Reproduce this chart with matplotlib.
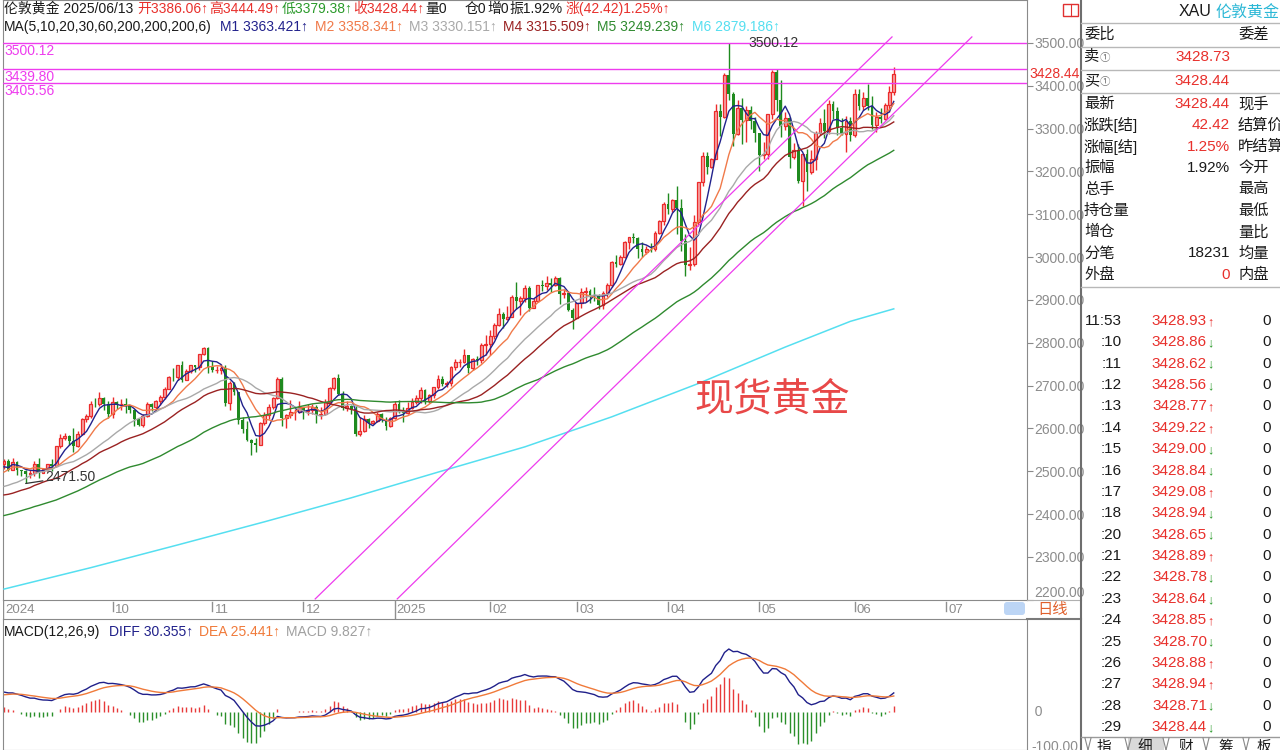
import numpy as np
import pandas as pd
import matplotlib
matplotlib.use("Agg")
import matplotlib.pyplot as plt
import matplotlib.transforms as mtransforms
from matplotlib.patches import Rectangle, FancyBboxPatch

plt.rcParams["font.family"] = ["Liberation Sans", "Noto Sans CJK SC", "DejaVu Sans"]

# ---------------- daily bars, London gold (XAU) ----------------
session_days = pd.bdate_range("2024-08-27", "2025-06-13").difference(
    pd.to_datetime(["2024-12-25", "2025-01-01", "2025-04-18"]))
future_days = pd.bdate_range("2025-06-16", "2025-07-31")

open_ = [
    2517, 2525, 2504, 2521,
    2503, 2500, 2493, 2495, 2517, 2497, 2506, 2516, 2512, 2558, 2578, 2582, 2570, 2559, 2586, 2622, 2628, 2657, 2656, 2672, 2658,
    2634, 2662, 2656, 2657, 2653, 2643, 2622, 2608, 2630, 2657, 2649, 2663, 2674, 2693, 2721, 2720, 2748, 2714, 2735, 2747, 2743, 2774, 2788,
    2743, 2736, 2737, 2742, 2659, 2706, 2685, 2619, 2598, 2573, 2565, 2562, 2612, 2631, 2650, 2670, 2716, 2625, 2632, 2638, 2639,
    2650, 2640, 2643, 2650, 2632, 2633, 2661, 2694, 2718, 2681, 2648, 2653, 2646, 2586, 2594, 2622, 2613, 2617, 2633, 2620, 2606,
    2624, 2658, 2640, 2636, 2648, 2662, 2670, 2690, 2663, 2677, 2696, 2715, 2703, 2707, 2743, 2754, 2755, 2771, 2740, 2763, 2760, 2794,
    2798, 2815, 2842, 2867, 2856, 2861, 2908, 2898, 2904, 2929, 2882, 2898, 2935, 2933, 2939, 2936, 2951, 2915, 2916, 2876,
    2858, 2893, 2918, 2920, 2911, 2910, 2889, 2916, 2934, 2988, 2984, 3001, 3035, 3047, 3044, 3019, 3011, 3020, 3019, 3057, 3085,
    3123, 3113, 3134, 3114, 3037, 2982, 2983, 3082, 3175, 3237, 3210, 3229, 3342, 3327, 3424, 3381, 3288, 3349, 3319, 3343, 3317,
    3289, 3239, 3241, 3334, 3431, 3366, 3306, 3325, 3234, 3249, 3178, 3240, 3199, 3230, 3290, 3314, 3294, 3357, 3342, 3301, 3288, 3318,
    3285.6, 3381, 3353, 3372, 3352, 3308, 3327, 3322, 3354, 3386.06,
]
high = [
    2528, 2528.5, 2531.5, 2525,
    2504, 2503, 2503, 2523, 2530, 2508, 2518, 2529, 2560, 2586, 2589, 2584, 2600, 2593, 2625, 2634, 2664, 2670, 2685, 2674, 2665,
    2673, 2665, 2668, 2670, 2655, 2646, 2625, 2633, 2661, 2660, 2667, 2678, 2696, 2722, 2740, 2749, 2758, 2738, 2749, 2749, 2774, 2790, 2790,
    2757, 2746, 2750, 2749, 2710, 2709, 2685, 2626, 2618, 2575, 2578, 2614, 2639, 2656, 2674, 2721, 2721, 2633, 2666, 2645, 2665,
    2650, 2657, 2657, 2655, 2649, 2668, 2697, 2721, 2726, 2687, 2664, 2655, 2655, 2626, 2632, 2625, 2620, 2638, 2637, 2626, 2627,
    2664, 2666, 2649, 2662, 2670, 2678, 2697, 2692, 2680, 2697, 2725, 2722, 2711, 2746, 2763, 2763, 2786, 2772, 2765, 2770, 2799, 2817,
    2830, 2845, 2882, 2872, 2887, 2911, 2942, 2910, 2935, 2933, 2905, 2936, 2947, 2955, 2952, 2956, 2954, 2925, 2920, 2882,
    2894, 2928, 2930, 2925, 2930, 2913, 2921, 2940, 2990, 3005, 3004, 3038, 3048, 3057, 3047, 3036, 3025, 3033, 3060, 3087, 3128,
    3149, 3135, 3167, 3136, 3055, 3023, 3099, 3176, 3245, 3245, 3232, 3357, 3358, 3430, 3500.12, 3386, 3367, 3371, 3352, 3353, 3328,
    3290, 3269, 3335, 3437, 3439.8, 3414, 3338, 3326, 3266, 3264, 3241, 3253, 3250, 3295, 3325, 3345, 3366, 3365, 3350, 3325, 3330, 3326,
    3392, 3392, 3385, 3403, 3375, 3338, 3349, 3360, 3400, 3444.49,
]
low = [
    2506, 2499.5, 2502, 2491,
    2489, 2471.5, 2484, 2490, 2485, 2495, 2500, 2500, 2510, 2555, 2574, 2562, 2546, 2556, 2584, 2614, 2624, 2651, 2653, 2643, 2625,
    2624, 2646, 2642, 2636, 2637, 2605, 2605, 2604, 2627, 2640, 2643, 2655, 2669, 2692, 2710, 2714, 2709, 2712, 2730, 2732, 2737, 2772, 2730,
    2732, 2729, 2728, 2652, 2643, 2677, 2610, 2589, 2571, 2537, 2545, 2561, 2607, 2622, 2646, 2668, 2605, 2601, 2625, 2620, 2636,
    2622, 2632, 2633, 2613, 2623, 2631, 2657, 2689, 2678, 2643, 2641, 2633, 2583, 2583, 2592, 2602, 2610, 2616, 2615, 2597, 2604,
    2621, 2635, 2614, 2634, 2645, 2656, 2660, 2656, 2660, 2672, 2692, 2700, 2697, 2700, 2736, 2744, 2752, 2730, 2737, 2747, 2752, 2772,
    2771, 2809, 2840, 2834, 2852, 2860, 2880, 2864, 2895, 2875, 2881, 2896, 2922, 2923, 2918, 2932, 2890, 2904, 2874, 2833,
    2857, 2882, 2895, 2894, 2898, 2880, 2880, 2906, 2930, 2976, 2982, 2999, 3020, 3032, 2999, 3001, 3007, 3013, 3015, 3055, 3076,
    3100, 3105, 3054, 3015, 2957, 2971, 2979, 3073, 3167, 3194, 3207, 3228, 3283, 3325, 3367, 3260, 3285, 3265, 3268, 3300, 3268,
    3202, 3229, 3229, 3323, 3340, 3280, 3297, 3207, 3228, 3172, 3120, 3155, 3195, 3204, 3285, 3278, 3287, 3323, 3285, 3284, 3245, 3271,
    3280, 3343, 3344, 3343, 3299, 3293, 3312, 3319, 3338, 3379.38,
]
close = [
    2525, 2504, 2521, 2503,
    2500, 2493, 2495, 2517, 2497, 2506, 2516, 2512, 2558, 2578, 2582, 2570, 2559, 2586, 2622, 2628, 2657, 2656, 2672, 2658, 2634,
    2662, 2656, 2657, 2653, 2643, 2622, 2608, 2630, 2657, 2649, 2663, 2674, 2693, 2721, 2720, 2748, 2714, 2735, 2747, 2743, 2774, 2788, 2743,
    2736, 2737, 2742, 2659, 2706, 2685, 2619, 2598, 2573, 2565, 2562, 2612, 2631, 2650, 2670, 2716, 2625, 2632, 2638, 2639, 2650,
    2640, 2643, 2650, 2632, 2633, 2661, 2694, 2718, 2681, 2648, 2653, 2646, 2586, 2594, 2622, 2613, 2617, 2633, 2620, 2606, 2624,
    2658, 2640, 2636, 2648, 2662, 2670, 2690, 2663, 2677, 2696, 2715, 2703, 2707, 2743, 2754, 2755, 2771, 2740, 2763, 2760, 2794, 2798,
    2815, 2842, 2867, 2856, 2861, 2908, 2898, 2904, 2929, 2882, 2898, 2935, 2933, 2939, 2936, 2951, 2915, 2916, 2876, 2858,
    2893, 2918, 2920, 2911, 2910, 2889, 2916, 2934, 2988, 2984, 3001, 3035, 3047, 3044, 3019.07, 3011, 3020, 3019, 3057, 3085, 3123,
    3113, 3134, 3114, 3037, 2982, 2983, 3082, 3175, 3237, 3210, 3229, 3342, 3327, 3424, 3381, 3288, 3349, 3319, 3343, 3317, 3289,
    3239, 3241, 3334, 3431, 3366, 3306, 3325, 3234, 3249, 3178, 3240, 3199.25, 3230, 3290, 3314, 3294, 3357, 3342, 3301, 3288, 3318, 3285.61,
    3381.20, 3352.85, 3372.40, 3352.31, 3307.545, 3326.655, 3322.05, 3353.94, 3386.02, 3428.44,
]
# closes before the first displayed bar (June - August 2024), used to seed the averages
prior_close = [
    2350, 2327, 2355, 2375, 2294, 2311, 2316, 2324, 2303, 2333, 2319, 2330, 2328, 2360, 2322, 2334, 2320, 2298, 2327, 2326,
    2332, 2334, 2356, 2356, 2392, 2359, 2364, 2371, 2415, 2411, 2422, 2469, 2459, 2445, 2400, 2396, 2409, 2397, 2364, 2387,
    2384, 2410, 2447,
    2446, 2442, 2409, 2391, 2382, 2427, 2431, 2472, 2465, 2447, 2457, 2507, 2503, 2514, 2512, 2485, 2512, 2518,
]
# 200-day average, sampled along the displayed range (bar index, value)
ma200_idx = [0, 20, 40, 60, 80, 100, 120, 140, 160, 180, 195, 205]
ma200_val = [2225, 2275, 2328, 2382, 2438, 2498, 2557, 2627, 2705, 2790, 2850, 2879.186]

ma_periods = [5, 10, 20, 30, 60]
ma_names = ["M1", "M2", "M3", "M4", "M5"]
level_lines = [3500.12, 3439.80, 3405.56]
# drawn channel: (bar index, price) end points
channel_upper = [(71.7, 2202.0), (204.6, 3514.0)]
channel_lower = [(90.6, 2202.0), (223.0, 3514.0)]

macd_text = ["DIFF 30.355↑", "DEA 25.441↑", "MACD 9.827↑"]

quote_rows = [("最新", "3428.44", "现手"), ("涨跌[结]", "42.42", "结算价"), ("涨幅[结]", "1.25%", "昨结算"),
              ("振幅", "1.92%", "今开"), ("总手", "", "最高"), ("持仓量", "", "最低"), ("增仓", "", "量比"),
              ("分笔", "18231", "均量"), ("外盘", "0", "内盘")]
quote_red = [True, True, True, False, False, False, False, False, True]
tick_times = ["11:53", ":10", ":11", ":12", ":13", ":14", ":15", ":16", ":17", ":18",
              ":20", ":21", ":22", ":23", ":24", ":25", ":26", ":27", ":28", ":29"]
tick_prices = [3428.93, 3428.86, 3428.62, 3428.56, 3428.77, 3429.22, 3429.00, 3428.84, 3429.08, 3428.94,
               3428.65, 3428.89, 3428.78, 3428.64, 3428.85, 3428.70, 3428.88, 3428.94, 3428.71, 3428.44]
tick_dirs = ["↑", "↓", "↓", "↓", "↑", "↑", "↓", "↓", "↑", "↓", "↓", "↑", "↓", "↓", "↑", "↓", "↑", "↑", "↓", "↓"]
tick_vols = [0] * 20

# ---------------- styling ----------------
RED = "#e8302c"
GREEN = "#2a9a2a"
UP_EDGE = "#ec2b2b"
UP_FACE = "#f6a2a2"
DOWN_COL = "#1f8a1f"
MAG = "#ee3cee"
GRAY_TXT = "#8c8c8c"
FRAME = "#8a8a8a"
MA_COLORS = ["#22228c", "#f07a4a", "#a9a9a9", "#9a2222", "#2f8a2f"]
CYAN = "#55dff0"

W, H = 1280, 750
fig = plt.figure(figsize=(W / 100, H / 100), dpi=100)
fig.patch.set_facecolor("white")


def frame(x0, y0, x1, y1):
    return [x0 / W, 1 - y1 / H, (x1 - x0) / W, (y1 - y0) / H]


o, h, l, c = (np.asarray(a, dtype=float) for a in (open_, high, low, close))
n = len(c)
idx = np.arange(n)
X_LEFT, X_RIGHT = -0.23, 235.7

# ---------------- price pane ----------------
ax = fig.add_axes(frame(3, 0, 1027, 600))
ax.set_xlim(X_LEFT, X_RIGHT)
ax.set_ylim(2199.5, 3600.2)
for s in ax.spines.values():
    s.set_color(FRAME)
ax.set_xticks([])
ax.yaxis.tick_right()
yt = np.arange(2200, 3600, 100)
ax.set_yticks(yt)
ax.set_yticklabels([f"{v:.2f}" for v in yt])
ax.tick_params(axis="y", length=4, pad=1, color=FRAME, labelcolor=GRAY_TXT, labelsize=10)
ax.get_yticklabels()[0].set_va("bottom")

rising = c >= o
ax.vlines(idx, l, h, colors=np.where(rising, UP_EDGE, DOWN_COL), lw=1.0, zorder=2)
body_lo = np.minimum(o, c)
body_h = np.maximum(np.abs(c - o), 0.8)
ax.bar(idx[rising], body_h[rising], bottom=body_lo[rising], width=0.66,
       facecolor=UP_FACE, edgecolor=UP_EDGE, lw=0.9, zorder=3)
ax.bar(idx[~rising], body_h[~rising], bottom=body_lo[~rising], width=0.66,
       color=DOWN_COL, lw=0, zorder=3)

closes_all = pd.Series(np.concatenate([prior_close, c]))
ma_vals = {}
for p, col in zip(ma_periods, MA_COLORS):
    ma_vals[p] = closes_all.rolling(p).mean().to_numpy()[len(prior_close):]
    ax.plot(idx, ma_vals[p], color=col, lw=1.0, zorder=4)
ax.plot(ma200_idx, ma200_val, color=CYAN, lw=1.1, zorder=4)

for v in level_lines:
    ax.axhline(v, color=MAG, lw=1.0, zorder=5)
    ax.annotate(f"{v:.2f}", xy=(0, v), xycoords=mtransforms.blended_transform_factory(ax.transAxes, ax.transData),
                xytext=(1, -1), textcoords="offset pixels", va="top", ha="left", color=MAG, fontsize=10)
for seg in (channel_upper, channel_lower):
    ax.plot([seg[0][0], seg[1][0]], [seg[0][1], seg[1][1]], color=MAG, lw=0.9, zorder=5)

i_hi = int(np.argmax(h))
ax.text(i_hi + 4.5, h[i_hi], f"{h[i_hi]:.2f}", va="center", ha="left", color="#333333", fontsize=10, zorder=6)
i_lo = int(np.argmin(l))
ax.annotate(f"{l[i_lo]:.2f}", xy=(i_lo, l[i_lo]), xytext=(i_lo + 4.6, l[i_lo] + 16), va="center", ha="left",
            color="#333333", fontsize=10, zorder=6,
            arrowprops=dict(arrowstyle="-", color="#333333", lw=0.9, shrinkA=0, shrinkB=0))

ax.text(177, 2668, "现货黄金", ha="center", va="center", color="#e84848", fontsize=28,
        family=["Noto Sans CJK SC"], zorder=6)

# ---------------- date strip ----------------
axd = fig.add_axes(frame(3, 600, 1027, 619))
axd.set_xlim(X_LEFT, X_RIGHT)
axd.set_ylim(19, 0)
axd.axis("off")
all_days = session_days.append(future_days)
for i, d in enumerate(all_days):
    if i > 0 and (d.month == all_days[i - 1].month or i < 10):
        continue
    yearly = i == 0 or d.month == 1
    label = str(d.year) if yearly else f"{d.month:02d}"
    xpos = X_LEFT if i == 0 else i
    axd.plot([xpos, xpos], [0, 19] if yearly else [1.5, 11], color="#8f8f8f", lw=1)
    axd.text(xpos + 0.5, 10, label, ha="left", va="center", color=GRAY_TXT, fontsize=9.5)

# ---------------- MACD pane ----------------
axm = fig.add_axes(frame(3, 619, 1027, 750))
axm.set_xlim(X_LEFT, X_RIGHT)
axm.set_ylim(-60.3, 147.6)
for s in axm.spines.values():
    s.set_color(FRAME)
axm.set_xticks([])
axm.set_yticks([])
ema12 = closes_all.ewm(span=12, adjust=False).mean()
ema26 = closes_all.ewm(span=26, adjust=False).mean()
diff = (ema12 - ema26)
dea = diff.ewm(span=9, adjust=False).mean()
hist = 2 * (diff - dea)
diff = diff.to_numpy()[len(prior_close):]
dea = dea.to_numpy()[len(prior_close):]
hist = hist.to_numpy()[len(prior_close):]
axm.vlines(idx, 0, hist, colors=np.where(hist >= 0, "#e83a3a", "#2a8f2a"), lw=1.0)
axm.plot(idx, diff, color="#20208a", lw=1.0)
axm.plot(idx, dea, color="#f07a3a", lw=1.0)
axm.text(1.0, 0, "  0", transform=mtransforms.blended_transform_factory(axm.transAxes, axm.transData),
         ha="left", va="center", color=GRAY_TXT, fontsize=10, clip_on=False)

# ---------------- overlay: headers and quote panel ----------------
ov = fig.add_axes([0, 0, 1, 1])
ov.set_xlim(0, W)
ov.set_ylim(H, 0)
ov.axis("off")


def t(x, y, s, color="#1a1a1a", size=10, ha="left", **kw):
    ov.text(x, y, s, color=color, fontsize=size, ha=ha, va="center", **kw)


# header line 1
t(4, 9, "伦敦黄金 2025/06/13")
t(137, 9, f"开{o[-1]:.2f}↑", RED)
t(209, 9, f"高{h[-1]:.2f}↑", RED)
t(282, 9, f"低{l[-1]:.2f}↑", GREEN)
t(353, 9, f"收{c[-1]:.2f}↑", RED)
t(425, 9, "量0")
t(465, 9, "仓0")
t(487, 9, "增0")
t(509, 9, "振1.92%")
t(566, 9, f"涨({c[-1] - c[-2]:.2f}){(c[-1] / c[-2] - 1) * 100:.2f}%↑", RED)

# header line 2
t(4, 27, "MA(5,10,20,30,60,200,200,200,6)")
ma_x = [220, 315, 409, 503, 597]
for name, p, col, x in zip(ma_names, ma_periods, MA_COLORS, ma_x):
    t(x, 27, f"{name} {ma_vals[p][-1]:.3f}↑", col)
t(692, 27, f"M6 {ma200_val[-1]:.3f}↑", CYAN)

# MACD title
t(4, 632, "MACD(12,26,9)")
t(109, 632, macd_text[0], "#20208a")
t(199, 632, macd_text[1], "#f07a3a")
t(286, 632, macd_text[2], "#a0a0a0")
t(1031, 747, "-100.00", GRAY_TXT)

# current price tag on the price scale
t(1029, 74, f"{c[-1]:.2f}", RED, 10)

# small icon and scroll thumb
ov.add_patch(Rectangle((1063, 4), 15, 12, fill=False, edgecolor="#e03030", lw=1))
ov.plot([1070.5, 1070.5], [4, 16], color="#e03030", lw=0.8)
ov.add_patch(FancyBboxPatch((1004, 602), 21, 13, boxstyle="round,pad=0,rounding_size=3",
                            fc="#bcd5f5", ec="none"))
t(1053, 610, "日线", "#e0602c", 11, ha="center")
ov.plot([1027, 1081], [619, 619], color="#7a7a7a", lw=1.5)
ov.plot([1027, 1081], [600, 600], color="#b0b0b0", lw=0.8)
ov.plot([1080.5, 1080.5], [0, 750], color="#6e6e6e", lw=1.5)

# quote panel
for y in (23, 47, 70, 93, 287):
    ov.plot([1081, 1280], [y, y], color="#b8b8b8", lw=1)
t(1212, 12, "XAU", "#1a1a1a", 11.5, ha="right")
t(1216, 12, "伦敦黄金(", "#2cb8d6", 11.5)
t(1084, 35, "委比", size=11)
t(1238, 35, "委差", size=11)
t(1084, 57, "卖", size=11)
t(1100, 58, "①", "#777777", 7.5)
t(1230, 57, "3428.73", RED, 11, ha="right")
t(1084, 81, "买", size=11)
t(1100, 82, "①", "#777777", 7.5)
t(1230, 81, "3428.44", RED, 11, ha="right")
for k, ((lab, val, lab2), is_red) in enumerate(zip(quote_rows, quote_red)):
    y = 104 + k * 21.35
    t(1084, y, lab, size=11)
    t(1230, y, val, RED if is_red else "#1a1a1a", 11, ha="right")
    t(1238, y, lab2, size=11)

for k, (tm, pr, dr, vol) in enumerate(zip(tick_times, tick_prices, tick_dirs, tick_vols)):
    y = 321 + k * 21.37
    t(1122, y, tm, size=11, ha="right")
    t(1207, y, f"{pr:.2f}", RED, 11, ha="right")
    t(1207, y + 1, dr, RED if dr == "↑" else GREEN, 9)
    t(1267, y, str(vol), size=11, ha="center")

# tab bar
ov.plot([1081, 1280], [737, 737], color="#9a9a9a", lw=1)
ov.add_patch(Rectangle((1128, 738), 36, 12, fc="#d9d9d9", ec="none"))
for xb in (1088, 1128, 1166, 1206, 1246):
    ov.plot([xb - 3, xb], [738, 750], color="#888888", lw=0.8)
    ov.plot([xb + 3, xb], [738, 750], color="#888888", lw=0.8)
for x, s in zip((1104, 1145, 1186, 1226, 1264), ("指", "细", "财", "筹", "板")):
    t(x, 747, s, size=10.5, ha="center")

fig.savefig("out.png", dpi=100, facecolor="white")
